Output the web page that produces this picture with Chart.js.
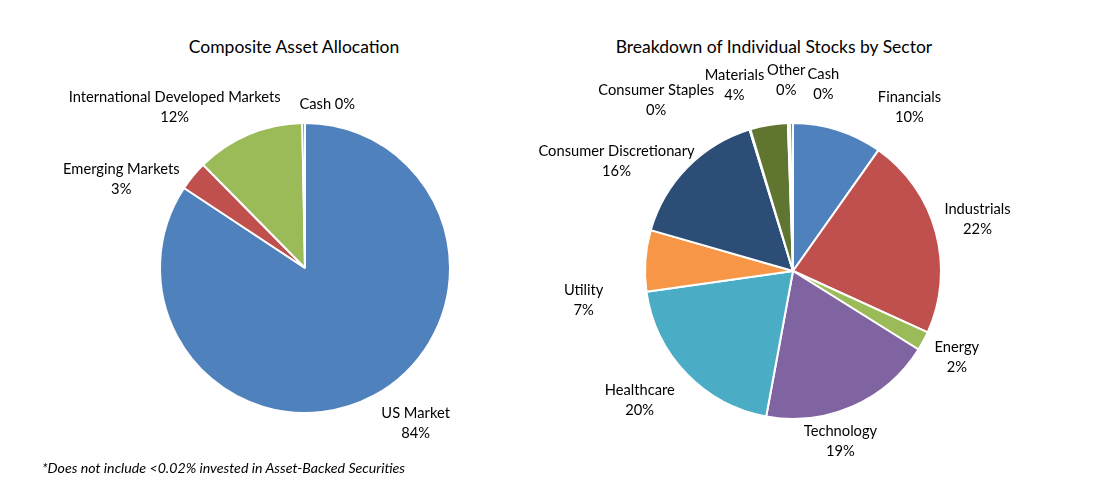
<!DOCTYPE html>
<html>
<head>
<meta charset="utf-8">
<script src="https://cdn.jsdelivr.net/npm/chart.js@4"></script>
<style>
  html, body { margin: 0; padding: 0; background: #fff; }
  body { width: 1099px; height: 494px; position: relative; overflow: hidden; font-family: Lato, "Open Sans", sans-serif; color: #000; }
  canvas { position: absolute; top: 0; }
  #c1 { left: 0; }
  #c2 { left: 500px; }
  .titulo { position: absolute; top: 37px; width: 400px; text-align: center; font-size: 17.5px; line-height: 20px; }
  #t1 { left: 94px; }
  #t2 { left: 574px; }
  #nota { position: absolute; left: 42px; top: 460px; font-size: 14.2px; line-height: 16px; font-style: italic; }
</style>
</head>
<body>
<div class="titulo" id="t1">Composite Asset Allocation</div>
<div class="titulo" id="t2">Breakdown of Individual Stocks by Sector</div>
<canvas id="c1" width="550" height="494"></canvas>
<canvas id="c2" width="599" height="494"></canvas>
<div id="nota">*Does not include &lt;0.02% invested in Asset-Backed Securities</div>

<script>
// Composicion de activos (grafico izquierdo)
const activos = ["US Market", "Emerging Markets", "International Developed Markets", "Cash"];
const activosValores = [84.3, 3.3, 12.1, 0.3];
const activosColores = ["#4F81BD", "#C0504D", "#9BBB59", "#8064A2"];

// Sectores (grafico derecho)
const sectores = ["Financials", "Industrials", "Energy", "Technology", "Healthcare", "Utility",
    "Consumer Discretionary", "Consumer Staples", "Materials", "Other", "Cash"];
const sectoresValores = [9.8, 22.0, 2.1, 19.0, 19.85, 6.7, 15.8, 0.1, 4.1, 0.25, 0.3];
const sectoresColores = ["#4F81BD", "#C0504D", "#9BBB59", "#8064A2", "#4BACC6", "#F79646",
    "#2C4D75", "#772C2A", "#5F7530", "#4D3B62", "#276A7C"];

// Etiquetas fuera del borde del pastel, con ajuste manual como en Excel
const etiquetasFuera = {
    id: "etiquetasFuera",
    afterDatasetsDraw(chart, args, opts) {
        const ctx = chart.ctx;
        const meta = chart.getDatasetMeta(0);
        const valores = chart.data.datasets[0].data;
        const total = valores.reduce((a, b) => a + b, 0);

        ctx.save();
        ctx.font = opts.font;
        ctx.fillStyle = opts.color;
        ctx.textAlign = "center";
        ctx.textBaseline = "middle";

        meta.data.forEach((arc, i) => {
            const p = arc.getProps(["x", "y", "startAngle", "endAngle", "outerRadius"], true);
            const medio = (p.startAngle + p.endAngle) / 2;
            const dx = Math.cos(medio);
            const dy = Math.sin(medio);
            const pct = Math.round(valores[i] / total * 100) + "%";
            const nombre = chart.data.labels[i];
            const lineas = (opts.enLinea || []).includes(i) ? [nombre + " " + pct] : [nombre, pct];

            const w = Math.max(...lineas.map(l => ctx.measureText(l).width));
            const h = lineas.length * opts.alto;
            const r = p.outerRadius + opts.separacion;
            const ajuste = opts.ajustes[i] || [0, 0];
            const cx = p.x + dx * r + dx * w / 2 + ajuste[0];
            const cy = p.y + dy * r + dy * h / 2 + ajuste[1];

            lineas.forEach((l, j) => {
                ctx.fillText(l, cx, cy - h / 2 + opts.alto * (j + 0.5));
            });
        });
        ctx.restore();
    }
};

function crearPastel(id, etiquetas, valores, colores, padding, ajustes, enLinea) {
    return new Chart(document.getElementById(id), {
        type: "pie",
        data: {
            labels: etiquetas,
            datasets: [{
                data: valores,
                backgroundColor: colores,
                borderColor: "#fff",
                borderWidth: 2
            }]
        },
        options: {
            responsive: false,
            animation: false,
            devicePixelRatio: 1,
            layout: { padding },
            plugins: {
                legend: { display: false },
                tooltip: { enabled: false },
                etiquetasFuera: {
                    font: "14.7px Lato",
                    color: "#000",
                    alto: 20,
                    separacion: 10,
                    ajustes,
                    enLinea
                }
            }
        },
        plugins: [etiquetasFuera]
    });
}

crearPastel("c1", activos, activosValores, activosColores,
    { left: 159, right: 99, top: 122, bottom: 80 },
    [[21, 1], [-19, 22], [-29, 1], [24, 1]],
    [3]);

crearPastel("c2", sectores, sectoresValores, sectoresColores,
    { left: 144, right: 157, top: 122, bottom: 74 },
    [[59, 6], [0, -5], [5, 2], [-31, 7], [-14, 6], [-32, 42], [-8, 15], [-74, 0], [-28, -10], [-2, -13], [32, -9]],
    []);
</script>
</body>
</html>
